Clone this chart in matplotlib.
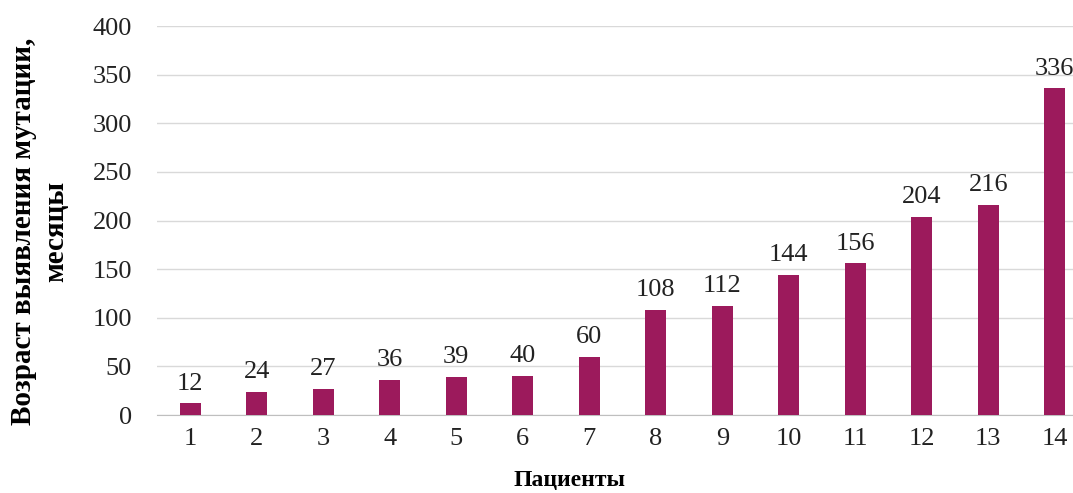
import numpy as np
import matplotlib
matplotlib.use('Agg')
import matplotlib.pyplot as plt

# данные
patients = ['1', '2', '3', '4', '5', '6', '7', '8', '9', '10', '11', '12', '13', '14']
age_months = [12, 24, 27, 36, 39, 40, 60, 108, 112, 144, 156, 204, 216, 336]

plt.rcParams['font.family'] = ['Liberation Serif', 'DejaVu Serif']

fig = plt.figure(figsize=(10.73, 4.93), dpi=100)
ax = fig.add_axes([0.1463, 0.158, 0.8677, 0.789])

x = np.arange(len(patients))
ax.bar(x, age_months, width=0.32, color='#9c1a5c', zorder=3)
for xi, v in zip(x, age_months):
    ax.text(xi, v + 9, str(v), ha='center', va='bottom', fontsize=19, color='#222222')

ax.set_xlim(-0.5, len(patients) - 0.5)
ax.set_ylim(0, 400)
ax.set_yticks(np.arange(0, 401, 50))
ax.set_xticks(x)
ax.set_xticklabels(patients)
ax.tick_params(axis='both', length=0, labelsize=19, colors='#222222')
ax.tick_params(axis='x', pad=9)
ax.tick_params(axis='y', pad=18)

ax.grid(axis='y', color='#d9d9d9', linewidth=1, zorder=0)
for s in ['top', 'right', 'left']:
    ax.spines[s].set_visible(False)
ax.spines['bottom'].set_color('#bfbfbf')

# подписи осей (картинка обрезана справа, поэтому ставим вручную)
fig.text(0.531, 0.026, 'Пациенты', fontsize=17, fontweight='bold',
         ha='center', va='center')
fig.text(0.0373, 0.531, 'Возраст выявления мутации,\nмесяцы', fontsize=21,
         fontweight='bold', rotation=90, ha='center', va='center',
         multialignment='center', linespacing=1.25)

plt.savefig('out.png', dpi=100)
